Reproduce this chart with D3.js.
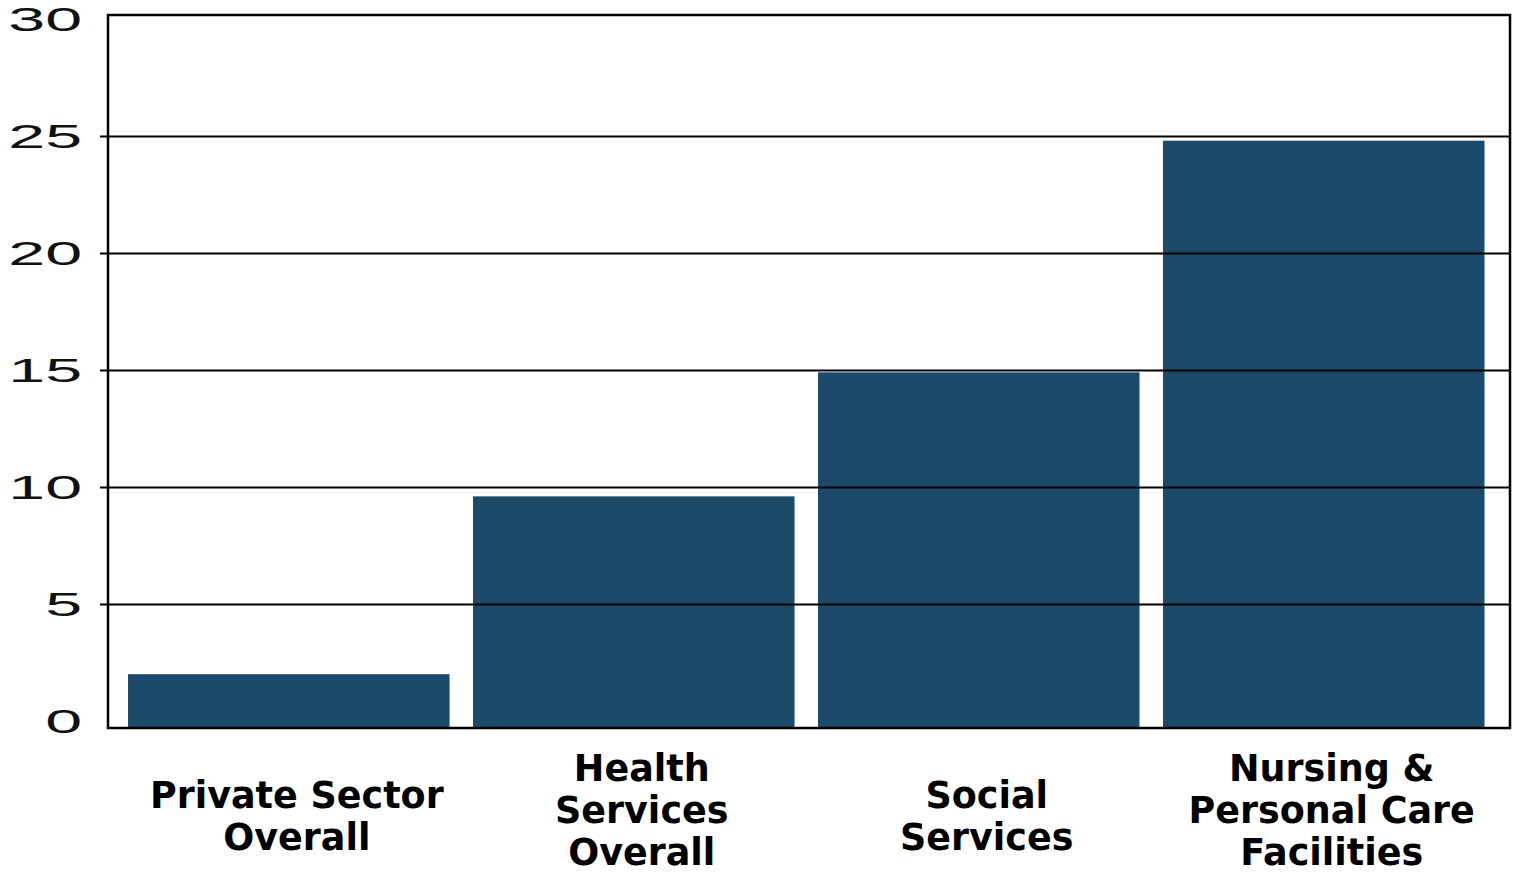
<!DOCTYPE html>
<html>
<head>
<meta charset="utf-8">
<script src="https://cdn.jsdelivr.net/npm/d3@7"></script>
<style>
  html, body { margin: 0; padding: 0; background: #ffffff; }
  svg { display: block; }
</style>
</head>
<body>
<svg id="chart" width="1516" height="875"></svg>
<script>
// ---- data ----
const categories = [
  ["Private Sector", "Overall"],
  ["Health", "Services", "Overall"],
  ["Social", "Services"],
  ["Nursing &", "Personal Care", "Facilities"]
];
const values = [2.0, 9.6, 14.9, 24.8];
const yTicks = [0, 5, 10, 15, 20, 25, 30];

// ---- layout ----
const plotLeft = 108, plotRight = 1510, plotTop = 15, plotBottom = 728;
const barColor = "#1c4a6a";

const svg = d3.select("#chart");

const x = d3.scaleBand()
  .domain(d3.range(values.length))
  .range([plotLeft, plotRight])
  .paddingInner(0.068)
  .paddingOuter(0.066)
  .align(0.44);

const y = d3.scaleLinear().domain([0, 30]).range([721, 19]);

// bars
svg.append("g").selectAll("rect")
  .data(values)
  .join("rect")
  .attr("x", (d, i) => x(i))
  .attr("width", x.bandwidth())
  .attr("y", d => y(d))
  .attr("height", d => plotBottom - y(d))
  .attr("fill", barColor);

// gridlines with ticks (drawn over bars)
const inner = yTicks.filter(t => t > 0 && t < 30);
svg.append("g").selectAll("line")
  .data(inner)
  .join("line")
  .attr("x1", plotLeft - 8)
  .attr("x2", plotRight)
  .attr("y1", d => Math.round(y(d)) + 0.5)
  .attr("y2", d => Math.round(y(d)) + 0.5)
  .attr("stroke", "#000")
  .attr("stroke-width", 2);

// frame
svg.append("rect")
  .attr("x", plotLeft)
  .attr("y", plotTop)
  .attr("width", plotRight - plotLeft)
  .attr("height", plotBottom - plotTop)
  .attr("fill", "none")
  .attr("stroke", "#000")
  .attr("stroke-width", 2.5);

// y tick labels (wide, stretched sans)
svg.append("g").selectAll("text")
  .data(yTicks)
  .join("text")
  .attr("transform", d => `translate(82, ${y(d) + 12}) scale(1.95, 1)`)
  .attr("text-anchor", "end")
  .attr("font-family", "'Liberation Sans', Arial, sans-serif")
  .attr("font-size", 34)
  .attr("fill", "#111")
  .text(d => d);

// category labels
const lineH = 42;
const midBaseline = 829;
const maxLastBaseline = 865;
const lab = svg.append("g").selectAll("text")
  .data(categories)
  .join("text")
  .attr("text-anchor", "middle")
  .attr("font-family", "'DejaVu Sans', Verdana, sans-serif")
  .attr("font-weight", "bold")
  .attr("font-size", 36.5)
  .attr("fill", "#000");

lab.each(function(lines, i) {
  const cx = x(i) + x.bandwidth() / 2 + 8;
  const last = Math.min(midBaseline + (lines.length - 1) * lineH / 2, maxLastBaseline);
  const first = last - (lines.length - 1) * lineH;
  d3.select(this).selectAll("tspan")
    .data(lines)
    .join("tspan")
    .attr("x", cx)
    .attr("y", (d, j) => first + j * lineH)
    .text(d => d);
});
</script>
</body>
</html>
